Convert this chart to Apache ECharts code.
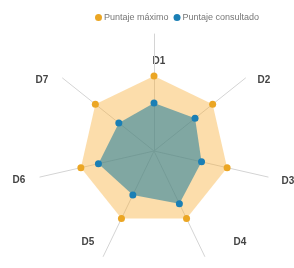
<!DOCTYPE html>
<html><head><meta charset="utf-8">
<script src="https://cdn.jsdelivr.net/npm/echarts@6/dist/echarts.min.js"></script>
<style>html,body{margin:0;padding:0;background:#fff}#c{width:294px;height:268px}</style>
</head><body><div id="c"></div>
<script>
const dimensions = ['D1','D2','D3','D4','D5','D6','D7'];
const maxScore = [100,100,100,100,100,100,100];
const consulted = [64,70,65,78,65,76,60];
const seriesNames = ['Puntaje máximo','Puntaje consultado'];

// ECharts radar runs counter-clockwise; reorder so D1..D7 run clockwise
const order = [0,6,5,4,3,2,1];
const cw = arr => order.map(i => arr[i]);

const labelPos = {D1:[159,61],D2:[264,80],D3:[288,181],D4:[240,242],D5:[88,242],D6:[19,180],D7:[42,80]};

const chart = echarts.init(document.getElementById('c'), null, {renderer:'canvas'});
const center = [154,151];
chart.setOption({
  animation:false,
  legend:{top:8,left:90,itemWidth:7,itemHeight:7,itemGap:5,icon:'circle',
    textStyle:{fontSize:9,color:'#777',fontFamily:'Liberation Sans',padding:[0,0,0,-3]},
    data:seriesNames},
  radar:[
    {center:center,radius:75,startAngle:90,
     indicator:cw(dimensions).map(d=>({name:d,max:100})),
     axisName:{show:false},axisLine:{show:false},splitLine:{show:false},splitArea:{show:false},axisTick:{show:false},axisLabel:{show:false}},
    {center:center,radius:117,startAngle:90,
     indicator:cw(dimensions).map(d=>({name:d,max:100})),
     axisName:{show:false},
     axisLine:{lineStyle:{color:'#d4d4d4',width:1}},splitLine:{show:false},splitArea:{show:false}}
  ],
  graphic: dimensions.map(d=>({type:'text',x:labelPos[d][0],y:labelPos[d][1],
     style:{text:d,fill:'#444',font:'bold 10px "Liberation Sans"',align:'center',verticalAlign:'middle'}})),
  series:[
    {type:'radar',radarIndex:0,z:2,data:[{name:seriesNames[0],value:cw(maxScore)}],
     symbol:'circle',symbolSize:7,
     itemStyle:{color:'#eba624'},lineStyle:{width:0,color:'#eba624'},
     areaStyle:{color:'rgba(248,175,55,0.42)',opacity:1}},
    {type:'radar',radarIndex:0,z:3,data:[{name:seriesNames[1],value:cw(consulted)}],
     symbol:'circle',symbolSize:7,
     itemStyle:{color:'#1b7fb5'},lineStyle:{width:0,color:'#1b7fb5'},
     areaStyle:{color:'rgba(25,122,155,0.55)',opacity:1}}
  ]
});
</script></body></html>
